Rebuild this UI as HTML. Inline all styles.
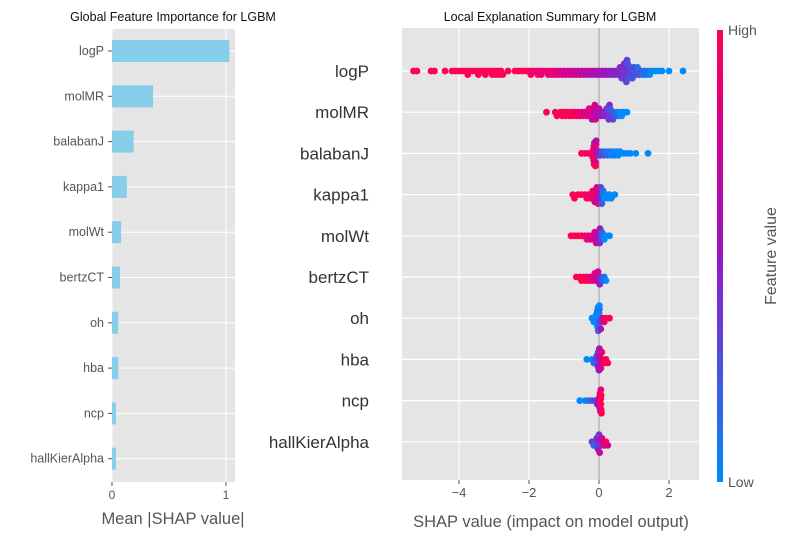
<!DOCTYPE html>
<html><head><meta charset="utf-8"><style>
body{margin:0;background:#fff}
svg{font-family:"Liberation Sans","DejaVu Sans",sans-serif;display:block}
</style></head><body>
<svg id="chart" width="790" height="540" viewBox="0 0 790 540" xmlns="http://www.w3.org/2000/svg">
<g id="left"></g>
<g id="right"></g>
</svg>
<script>
const features = ["logP","molMR","balabanJ","kappa1","molWt","bertzCT","oh","hba","ncp","hallKierAlpha"];
const meanAbs = [1.03,0.36,0.19,0.13,0.08,0.07,0.055,0.055,0.035,0.035];
const leftTicks = [0,1];
const rightTicks = [-4,-2,0,2];
// each entry: [shap value, feature value 0..9]
const shapLogP = [[-5.3,9],[-5.2,9],[-4.8,9],[-4.7,9],[-4.4,9],[-4.2,9],[-4.1,9],[-4.0,9],[-3.9,9],[-3.8,9],[-3.75,9],[-3.7,9],[-3.6,9],[-3.5,9],[-3.45,9],[-3.4,9],[-3.3,9],[-3.25,9],[-3.2,9],[-3.1,9],[-3.05,9],[-3.0,9],[-2.95,9],[-2.9,9],[-2.85,9],[-2.8,9],[-2.75,9],[-2.6,9],[-2.4,9],[-2.3,9],[-2.2,9],[-2.1,9],[-2.0,9],[-1.95,9],[-1.9,8],[-1.8,8],[-1.75,9],[-1.7,8],[-1.65,8],[-1.6,8],[-1.5,8],[-1.45,8],[-1.4,8],[-1.35,8],[-1.3,8],[-1.25,7],[-1.2,8],[-1.15,8],[-1.1,7],[-1.05,7],[-1.0,7],[-0.95,7],[-0.9,7],[-0.85,7],[-0.8,7],[-0.75,7],[-0.7,6],[-0.65,7],[-0.6,6],[-0.55,7],[-0.5,6],[-0.45,6],[-0.4,6],[-0.35,6],[-0.3,6],[-0.25,5],[-0.2,6],[-0.15,5],[-0.1,6],[-0.05,5],[0,5],[0.05,5],[0.1,5],[0.15,5],[0.2,5],[0.25,5],[0.3,4],[0.35,4],[0.4,5],[0.45,4],[0.5,4],[0.55,4],[0.6,4],[0.6,4],[0.65,4],[0.65,3],[0.7,3],[0.7,4],[0.72,4],[0.75,3],[0.75,4],[0.78,3],[0.8,3],[0.8,4],[0.8,3],[0.82,2],[0.85,3],[0.85,2],[0.9,3],[0.9,2],[0.95,3],[0.95,2],[1.0,2],[1.0,3],[1.05,2],[1.1,2],[1.1,1],[1.15,2],[1.2,2],[1.25,1],[1.3,1],[1.35,1],[1.4,1],[1.45,0],[1.5,0],[1.6,0],[1.7,0],[1.8,0],[2.0,0],[2.4,0]];
const shapMolMR = [[-1.5,9],[-1.25,9],[-1.2,9],[-1.1,9],[-1.05,9],[-1.0,9],[-0.95,9],[-0.9,9],[-0.85,9],[-0.8,9],[-0.75,9],[-0.7,8],[-0.65,9],[-0.6,8],[-0.55,8],[-0.5,8],[-0.45,8],[-0.4,7],[-0.35,8],[-0.3,7],[-0.28,8],[-0.25,7],[-0.2,7],[-0.2,6],[-0.18,7],[-0.15,6],[-0.12,7],[-0.1,6],[-0.1,7],[-0.05,6],[0,5],[0,6],[0.05,5],[0.1,5],[0.15,4],[0.2,4],[0.22,3],[0.25,4],[0.28,3],[0.3,3],[0.3,4],[0.32,2],[0.35,3],[0.4,2],[0.4,3],[0.45,2],[0.5,1],[0.55,1],[0.6,0],[0.65,0],[0.7,0],[0.8,0]];
const shapBalabanJ = [[-0.5,9],[-0.4,9],[-0.3,8],[-0.2,9],[-0.18,8],[-0.16,9],[-0.15,7],[-0.15,8],[-0.14,9],[-0.13,6],[-0.12,8],[-0.12,9],[-0.11,7],[-0.1,7],[-0.1,9],[-0.09,8],[-0.08,6],[-0.05,5],[0,4],[0.05,3],[0.1,2],[0.15,2],[0.2,1],[0.25,1],[0.3,1],[0.35,0],[0.4,0],[0.45,1],[0.5,0],[0.55,0],[0.6,0],[0.7,0],[0.8,0],[0.9,0],[1.05,0],[1.4,0]];
const shapKappa1 = [[-0.75,9],[-0.7,9],[-0.6,9],[-0.5,9],[-0.4,9],[-0.35,9],[-0.3,8],[-0.25,9],[-0.2,8],[-0.18,9],[-0.15,8],[-0.12,7],[-0.1,9],[-0.08,7],[-0.06,8],[-0.05,6],[-0.03,8],[0,5],[0.02,6],[0.04,4],[0.05,3],[0.08,2],[0.1,1],[0.12,1],[0.15,0],[0.2,0],[0.25,0],[0.3,0],[0.35,0],[0.45,0]];
const shapMolWt = [[-0.8,9],[-0.7,9],[-0.6,9],[-0.5,9],[-0.4,8],[-0.35,9],[-0.3,8],[-0.25,7],[-0.2,8],[-0.15,7],[-0.12,8],[-0.1,6],[-0.08,7],[-0.05,6],[-0.02,5],[0,6],[0.02,4],[0.03,5],[0.05,3],[0.08,2],[0.1,1],[0.15,0],[0.2,0],[0.3,0]];
const shapBertzCT = [[-0.65,9],[-0.55,9],[-0.5,9],[-0.45,9],[-0.4,9],[-0.35,8],[-0.3,9],[-0.25,8],[-0.2,8],[-0.15,7],[-0.12,8],[-0.1,7],[-0.05,6],[-0.03,7],[0,5],[0.02,4],[0.05,3],[0.1,2],[0.15,1],[0.2,0]];
const shapOh = [[-0.2,0],[-0.15,0],[-0.1,0],[-0.08,0],[-0.06,0],[-0.05,1],[-0.04,0],[-0.03,0],[-0.02,2],[-0.02,0],[-0.01,0],[0,0],[0,1],[0.01,1],[0.01,0],[0.02,3],[0.05,5],[0.1,7],[0.15,8],[0.2,9],[0.3,9]];
const shapHba = [[-0.35,0],[-0.2,0],[-0.15,1],[-0.1,2],[-0.06,3],[-0.04,2],[-0.03,4],[-0.02,3],[0,5],[0,4],[0.01,5],[0.02,6],[0.03,6],[0.05,7],[0.08,8],[0.1,8],[0.15,9],[0.2,9],[0.25,9]];
const shapNcp = [[-0.55,0],[-0.4,0],[-0.3,1],[-0.2,2],[-0.1,3],[-0.05,4],[0,5],[0.01,6],[0.02,6],[0.03,7],[0.04,8],[0.05,9],[0.05,8],[0.05,9],[0.06,9],[0.06,8],[0.07,9]];
const shapHall = [[-0.2,3],[-0.15,1],[-0.1,2],[-0.06,4],[-0.05,2],[-0.03,5],[0,5],[0,3],[0.02,6],[0.05,3],[0.08,7],[0.1,6],[0.15,8],[0.2,9],[0.25,7]];
const shapSeries = [shapLogP,shapMolMR,shapBalabanJ,shapKappa1,shapMolWt,shapBertzCT,shapOh,shapHba,shapNcp,shapHall];

const NS="http://www.w3.org/2000/svg";
function mk(parent,tag,attrs,text){const e=document.createElementNS(NS,tag);for(const k in attrs)e.setAttribute(k,attrs[k]);if(text!==undefined)e.textContent=text;parent.appendChild(e);return e;}

// LEFT PANEL
const L=document.getElementById('left');
const lx0=112,lx1=235,ly0=29,ly1=482;
const lxs=v=>lx0+v*114;
const lys=i=>51+i*45.3;
const lbg=mk(L,'rect',{x:lx0,y:ly0,width:lx1-lx0,height:ly1-ly0,fill:'#e5e5e5'});

leftTicks.forEach(t=>{
  mk(L,'line',{x1:lxs(t),x2:lxs(t),y1:ly0,y2:ly1,stroke:'#fff','stroke-width':1});
  const tl=mk(L,'text',{x:lxs(t),y:ly1+17,'font-size':12,fill:'#555','text-anchor':'middle'},String(t));
  
  mk(L,'line',{x1:lxs(t),x2:lxs(t),y1:ly1,y2:ly1+4,stroke:'#555'});
});
features.forEach((f,i)=>{
  mk(L,'line',{x1:lx0,x2:lx1,y1:lys(i),y2:lys(i),stroke:'#fff','stroke-width':1});
});
features.forEach((f,i)=>{
  const b=mk(L,'rect',{x:lx0,y:lys(i)-11,width:lxs(meanAbs[i])-lx0,height:22,fill:'#87ceeb'});
  
  mk(L,'line',{x1:lx0-4,x2:lx0,y1:lys(i),y2:lys(i),stroke:'#555'});
  const t=mk(L,'text',{x:lx0-8,y:lys(i)+4,'font-size':12.5,fill:'#555','text-anchor':'end'},f);
  
});
const lt=mk(L,'text',{x:173,y:21,'font-size':12.5,fill:'#111','text-anchor':'middle'},'Global Feature Importance for LGBM');

const lxl=mk(L,'text',{x:173,y:524,'font-size':16.5,fill:'#555','text-anchor':'middle'},'Mean |SHAP value|');


// RIGHT PANEL
const R=document.getElementById('right');
const rx0=402,rx1=699,ry0=28,ry1=480;
const rxs=v=>599+v*35;
const rys=i=>71+i*41.2;
const rbg=mk(R,'rect',{x:rx0,y:ry0,width:rx1-rx0,height:ry1-ry0,fill:'#e5e5e5'});

rightTicks.forEach(t=>{
  mk(R,'line',{x1:rxs(t),x2:rxs(t),y1:ry0,y2:ry1,stroke:'#fff','stroke-width':1.2});
  mk(R,'line',{x1:rxs(t),x2:rxs(t),y1:ry1,y2:ry1+4,stroke:'#555'});
  const tl=mk(R,'text',{x:rxs(t),y:ry1+17,'font-size':13,fill:'#555','text-anchor':'middle'},t<0?'\u2212'+Math.abs(t):String(t));
  
});
features.forEach((f,i)=>{
  mk(R,'line',{x1:rx0,x2:rx1,y1:rys(i),y2:rys(i),stroke:'#fff','stroke-width':1.2});
  const t=mk(R,'text',{x:369,y:rys(i)+6,'font-size':17,fill:'#333','text-anchor':'end'},f);
  
});
mk(R,'line',{x1:rxs(0),x2:rxs(0),y1:ry0,y2:ry1,stroke:'#999','stroke-width':1});

const stops=[[0,[0,138,251]],[0.5,[150,25,195]],[0.78,[215,0,145]],[1,[255,0,82]]];
function cmap(v){for(let k=1;k<stops.length;k++){if(v<=stops[k][0]){const a=stops[k-1],b=stops[k];const t=(v-a[0])/(b[0]-a[0]);const c=a[1].map((x,j)=>Math.round(x+(b[1][j]-x)*t));return 'rgb('+c.join(',')+')';}}return 'rgb(255,0,82)';}

shapSeries.forEach((series,i)=>{
  const g=mk(R,'g',{});
  
  const pts=series.map(p=>({x:rxs(p[0]),c:p[1]})).sort((a,b)=>a.x-b.x);
  const placed=[];const d=3.4;const maxOff=13;
  pts.forEach(p=>{
    let best=0,bestD=-1;
    for(let k=0;k<40;k++){
      const cand=k===0?0:(k%2?1:-1)*Math.ceil(k/2)*1.8;
      if(Math.abs(cand)>maxOff)break;
      let md=Infinity;placed.forEach(q=>{const dd=Math.hypot(q.x-p.x,q.o-cand);if(dd<md)md=dd;});
      if(md>=d){best=cand;break;}
      if(md>bestD){bestD=md;best=cand;}
    }
    placed.push({x:p.x,o:best});
    const c=mk(g,'circle',{cx:p.x.toFixed(1),cy:(rys(i)+best).toFixed(1),r:3.4,fill:cmap(p.c/9)});
    
  });
});

const rt=mk(R,'text',{x:550,y:21,'font-size':12.5,fill:'#111','text-anchor':'middle'},'Local Explanation Summary for LGBM');

const rxl=mk(R,'text',{x:551,y:527,'font-size':16.5,fill:'#555','text-anchor':'middle'},'SHAP value (impact on model output)');


// colorbar
const defs=mk(R,'defs',{});
const lg=mk(defs,'linearGradient',{id:'cb',x1:0,y1:1,x2:0,y2:0});
stops.forEach(s=>mk(lg,'stop',{offset:s[0],'stop-color':'rgb('+s[1].join(',')+')'}));
const cb=mk(R,'rect',{x:717,y:30,width:6,height:452,fill:'url(#cb)'});

const hi=mk(R,'text',{x:728,y:35,'font-size':14,fill:'#555'},'High');

const lo=mk(R,'text',{x:728,y:487,'font-size':14,fill:'#555'},'Low');

const fv=mk(R,'text',{x:776,y:256,'font-size':16,fill:'#555','text-anchor':'middle',transform:'rotate(-90 776 256)'},'Feature value');

</script>
</body></html>
